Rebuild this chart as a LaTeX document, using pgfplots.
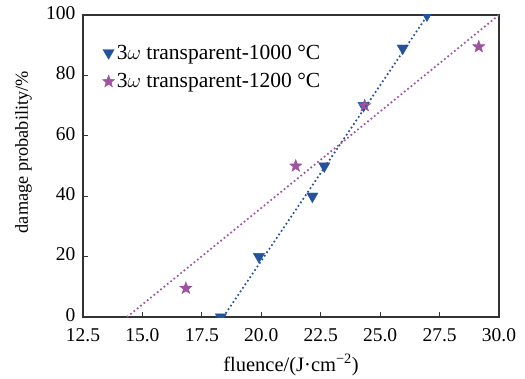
\documentclass[border=0pt]{standalone}
\usepackage{fontspec}
\setmainfont{Liberation Serif}
\usepackage{pgfplots}
\pgfplotsset{compat=1.18}
\definecolor{cblue}{RGB}{35,82,158}
\definecolor{cpurp}{RGB}{158,82,160}
\pgfdeclareplotmark{fstar}{%
  \pgfpathmoveto{\pgfpointpolar{90}{\pgfplotmarksize}}%
  \pgfpathlineto{\pgfpointpolar{126}{0.42\pgfplotmarksize}}%
  \pgfpathlineto{\pgfpointpolar{162}{\pgfplotmarksize}}%
  \pgfpathlineto{\pgfpointpolar{198}{0.42\pgfplotmarksize}}%
  \pgfpathlineto{\pgfpointpolar{234}{\pgfplotmarksize}}%
  \pgfpathlineto{\pgfpointpolar{270}{0.42\pgfplotmarksize}}%
  \pgfpathlineto{\pgfpointpolar{306}{\pgfplotmarksize}}%
  \pgfpathlineto{\pgfpointpolar{342}{0.42\pgfplotmarksize}}%
  \pgfpathlineto{\pgfpointpolar{18}{\pgfplotmarksize}}%
  \pgfpathlineto{\pgfpointpolar{54}{0.42\pgfplotmarksize}}%
  \pgfpathclose
  \pgfusepathqfillstroke}
\begin{document}
\begin{tikzpicture}
\begin{axis}[
  scale only axis, width=416pt, height=302pt,
  at={(0pt,0pt)}, anchor=south west,
  xmin=12.5, xmax=30, ymin=0, ymax=100,
  clip marker paths=true,
  xtick={12.5,15,17.5,20,22.5,25,27.5,30}, ytick={0,20,40,60,80,100},
  xticklabel style={yshift=-8pt, /pgf/number format/fixed, /pgf/number format/fixed zerofill, /pgf/number format/precision=1},
  yticklabel style={xshift=-4pt, yshift=2pt},
  /pgf/number format/assume math mode=true,
  tick align=inside, xtick pos=bottom, ytick pos=left,
  major tick length=5pt,
  axis line style={black!80, line width=1.2pt},
  tick style={black!80, line width=0.9pt},
  tick label style={font=\fontsize{19.5}{22}\selectfont},
  xlabel={fluence/(J·cm\textsuperscript{−2})},
  ylabel={damage probability/\%},
  xlabel style={at={(axis description cs:0.5,-0.158)}, anchor=center, font=\fontsize{20.5}{24}\selectfont},
  ylabel style={at={(axis description cs:-0.143,0.546)}, anchor=center, font=\fontsize{18.3}{22}\selectfont},
  legend style={draw=none, fill=none, at={(axis description cs:0.039,0.915)}, anchor=north west,
    font=\fontsize{21.5}{25}\selectfont, row sep=9pt},
  legend cell align=left,
]
\addplot[only marks, mark=triangle*, mark size=6.5pt, mark options={rotate=180, fill=cblue, draw=cblue}, color=cblue]
  coordinates {(18.3,0) (19.9,20) (22.15,40) (22.65,50) (24.3,70) (25.95,89) (26.97,100)};
\addlegendentry{3$\omega$ transparent-1000 °C}
\addplot[only marks, mark=fstar, mark size=6.5pt, mark options={fill=cpurp, draw=cpurp}, color=cpurp]
  coordinates {(16.83,9.5) (21.45,50) (24.35,70) (29.15,89.5)};
\addlegendentry{3$\omega$ transparent-1200 °C}
\addplot[forget plot, cblue, line width=1.7pt, dash pattern=on 1.7pt off 2.6pt] coordinates {(18.4,0) (27.0,100)};
\addplot[forget plot, cpurp, line width=1.7pt, dash pattern=on 1.7pt off 2.6pt] coordinates {(14.35,0) (30.0,100)};
\end{axis}
\pgfresetboundingbox
\path[use as bounding box] (-83pt,-61pt) rectangle (442pt,317pt);
\end{tikzpicture}
\end{document}
